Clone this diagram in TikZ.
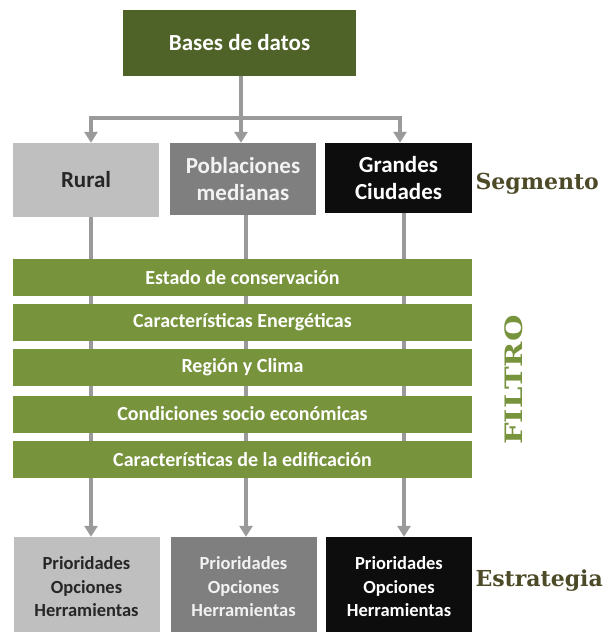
\documentclass[tikz,border=0pt]{standalone}
\usepackage{fontspec}
\setmainfont{Carlito}
\newfontfamily\slabfont{DejaVu Serif}
\usetikzlibrary{arrows.meta}
\definecolor{dbgreen}{HTML}{4F6228}
\definecolor{bargreen}{HTML}{77933C}
\definecolor{conngray}{HTML}{9A9A9A}
\definecolor{lgray}{HTML}{BFBFBF}
\definecolor{mgray}{HTML}{7F7F7F}
\definecolor{dblack}{HTML}{0D0D0D}
\definecolor{labbrown}{HTML}{4D4A28}
\tikzset{
  boxbase/.style={rectangle, inner sep=0pt, align=center, font=\bfseries\fontsize{23}{27}\selectfont},
  filterbar/.style={rectangle, fill=bargreen, minimum width=459pt, minimum height=37pt, inner sep=0pt, text=white, font=\bfseries\fontsize{20}{22}\selectfont},
  stratbox/.style={rectangle, inner sep=0pt, minimum width=146pt, minimum height=100pt, align=center, font=\bfseries\fontsize{18.5}{23.5}\selectfont},
  conn/.style={draw=conngray, line width=4pt},
  connarrow/.style={conn, -{Triangle[width=13pt,length=11pt]}},
  sidelabel/.style={text=labbrown, font=\slabfont\bfseries\fontsize{22}{26}\selectfont, anchor=west}
}
\begin{document}
\begin{tikzpicture}[x=1pt,y=-1pt]
\useasboundingbox[fill=white] (0,0) rectangle (604,632);
% top box
\node[boxbase, fill=dbgreen, text=white, minimum width=233pt, minimum height=66pt] (db) at (239.5,43) {Bases de datos};
% segment boxes
\node[boxbase, fill=lgray, text=black!85, minimum width=146pt, minimum height=74pt] (rural) at (86,180) {Rural};
\node[boxbase, fill=mgray, text=white!95!black, minimum width=146pt, minimum height=72pt] (pob) at (243,179) {Poblaciones\\medianas};
\node[boxbase, fill=dblack, text=white, minimum width=147pt, minimum height=70pt] (gc) at (398.5,178) {Grandes\\Ciudades};
% column coordinates
\coordinate (c1) at (91,118);
\coordinate (c2) at (241,118);
\coordinate (c3) at (400,118);
\coordinate (d1) at (91,0);
\coordinate (d2) at (246,0);
\coordinate (d3) at (404,0);
% strategy boxes
\node[stratbox, fill=lgray, text=black!85] (p1) at (86.5,587) {Prioridades\\Opciones\\Herramientas};
\node[stratbox, fill=mgray, text=white!95!black] (p2) at (243.5,587) {Prioridades\\Opciones\\Herramientas};
\node[stratbox, fill=dblack, text=white] (p3) at (399,587) {Prioridades\\Opciones\\Herramientas};
% connectors top
\draw[conn] (db.south -| c2) -- (c2);
\draw[conn, line cap=rect] (c1) -- (c3);
\draw[connarrow] (c1) -- (c1 |- rural.north);
\draw[connarrow] (c2) -- (c2 |- pob.north);
\draw[connarrow] (c3) -- (c3 |- gc.north);
% vertical lines through filters
\draw[connarrow] (rural.south -| d1) -- (p1.north -| d1);
\draw[connarrow] (pob.south -| d2) -- (p2.north -| d2);
\draw[connarrow] (gc.south -| d3) -- (p3.north -| d3);
% filter bars
\node[filterbar] (f1) at (242.5,277.5) {Estado de conservación};
\node[filterbar] (f2) at (242.5,322.5) {Características Energéticas};
\node[filterbar] (f3) at (242.5,367) {Región y Clima};
\node[filterbar] (f4) at (242.5,414) {Condiciones socio económicas};
\node[filterbar] (f5) at (242.5,459.5) {Características de la edificación};
% side labels
\node[sidelabel] (seg) at (472,184) {Segmento};
\node[sidelabel] (est) at (472,581) {Estrategia};
\node[text=bargreen, font=\slabfont\bfseries\fontsize{24}{28}\selectfont, rotate=90] (fil) at (514,380) {\scalebox{1.27}[1]{FILTRO}};
\end{tikzpicture}
\end{document}
